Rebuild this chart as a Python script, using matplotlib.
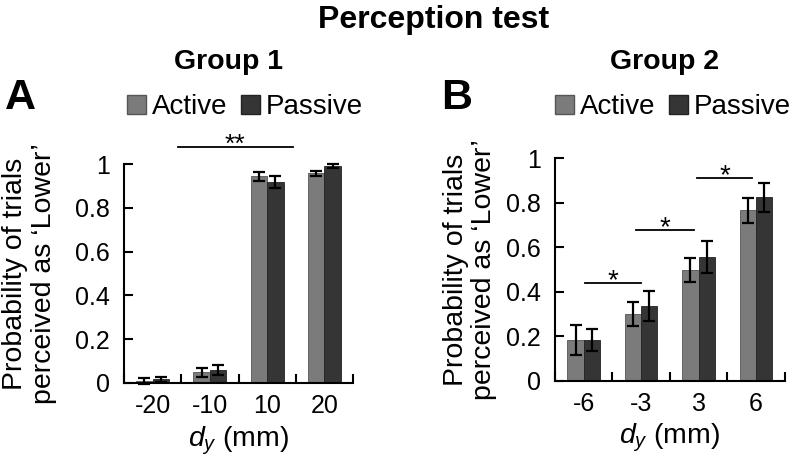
import matplotlib
matplotlib.use("Agg")
import matplotlib.pyplot as plt
import numpy as np
from matplotlib.patches import Patch

plt.rcParams['font.family'] = ['Liberation Sans', 'DejaVu Sans']
plt.rcParams['mathtext.fontset'] = 'custom'
plt.rcParams['mathtext.it'] = 'Liberation Sans:italic'
plt.rcParams['mathtext.rm'] = 'Liberation Sans'

# Data
cats_g1 = ['-20', '-10', '10', '20']
active_g1 = [0.010, 0.048, 0.943, 0.958]
active_err_g1 = [0.015, 0.022, 0.020, 0.011]
passive_g1 = [0.016, 0.058, 0.918, 0.990]
passive_err_g1 = [0.010, 0.022, 0.026, 0.010]

cats_g2 = ['-6', '-3', '3', '6']
active_g2 = [0.183, 0.300, 0.499, 0.766]
active_err_g2 = [0.067, 0.052, 0.053, 0.055]
passive_g2 = [0.183, 0.336, 0.556, 0.825]
passive_err_g2 = [0.049, 0.069, 0.073, 0.064]

# significance: (x_start, x_end, y, label)
sig_g1 = [(0.44, 2.45, 1.078, '**')]
sig_g2 = [(0.02, 0.99, 0.44, '*'), (0.91, 1.93, 0.678, '*'), (1.975, 2.94, 0.91, '*')]

yticks = [0, 0.2, 0.4, 0.6, 0.8, 1]
ytick_labels = ['0', '0.2', '0.4', '0.6', '0.8', '1']

c_active = '#7b7b7b'
c_passive = '#353535'

fig = plt.figure(figsize=(7.99, 4.62), dpi=100)
axA = fig.add_axes([0.155, 0.171, 0.287, 0.474])
axB = fig.add_axes([0.6946, 0.176, 0.2874, 0.481])


def draw(ax, cats, a, ae, p, pe, sigs, star_fs):
    x = np.arange(len(cats))
    w = 0.285
    ax.bar(x - w / 2, a, w, color=c_active, edgecolor='#555555', linewidth=0.6, zorder=2)
    ax.bar(x + w / 2, p, w, color=c_passive, edgecolor='#222222', linewidth=0.6, zorder=2)
    ax.errorbar(x - w / 2, a, yerr=ae, fmt='none', ecolor='black', elinewidth=1.6,
                capsize=4, capthick=1.6, zorder=3, clip_on=False)
    ax.errorbar(x + w / 2, p, yerr=pe, fmt='none', ecolor='black', elinewidth=1.6,
                capsize=4, capthick=1.6, zorder=3, clip_on=False)
    ax.set_xlim(-0.5, len(cats) - 0.5)
    ax.set_ylim(0, 1)
    ax.set_xticks(x)
    ax.set_xticklabels(cats, fontsize=18)
    ax.set_xticks(np.arange(len(cats) + 1) - 0.5, minor=True)
    ax.tick_params(axis='x', which='major', length=0, pad=8)
    ax.tick_params(axis='x', which='minor', direction='in', length=6.5, width=1.5)
    ax.set_yticks(yticks)
    ax.set_yticklabels(ytick_labels, fontsize=18)
    ax.tick_params(axis='y', direction='in', length=6.5, width=1.5, pad=10)
    for s in ['top', 'right']:
        ax.spines[s].set_visible(False)
    for s in ['left', 'bottom']:
        ax.spines[s].set_linewidth(1.5)
    for x0, x1, y, lab in sigs:
        ax.plot([x0, x1], [y, y], color='black', lw=1.3, clip_on=False)
        ax.annotate(lab, xy=((x0 + x1) / 2, y), xytext=(0, -3.6), textcoords='offset points',
                    ha='center', va='baseline', fontsize=star_fs, annotation_clip=False)
    ax.set_xlabel(r'$d_y$ (mm)', fontsize=20.5, labelpad=4.5)
    ax.set_ylabel("Probability of trials\nperceived as \u2018Lower\u2019", fontsize=20.5,
                  linespacing=1.12)


draw(axA, cats_g1, active_g1, active_err_g1, passive_g1, passive_err_g1, sig_g1, 19)
draw(axB, cats_g2, active_g2, active_err_g2, passive_g2, passive_err_g2, sig_g2, 20)
axA.yaxis.set_label_coords(-0.293, 0.5)
axB.yaxis.set_label_coords(-0.252, 0.5)

handles = [Patch(facecolor=c_active, edgecolor='#555555'),
           Patch(facecolor=c_passive, edgecolor='#222222')]
for ax, xc, yc in [(axA, 0.528, 1.26), (axB, 0.513, 1.23)]:
    ax.legend(handles, ['Active', 'Passive'], loc='center', bbox_to_anchor=(xc, yc),
              ncol=2, frameon=False, fontsize=20, handlelength=0.7, handleheight=0.7,
              handletextpad=0.2, columnspacing=0.5, borderpad=0, borderaxespad=0)

fig.text(434 / 799, 1 - 20 / 462, 'Perception test', ha='center', va='center',
         fontsize=23, fontweight='bold')
fig.text(229 / 799, 1 - 62 / 462, 'Group 1', ha='center', va='center',
         fontsize=20.5, fontweight='bold')
fig.text(665 / 799, 1 - 62 / 462, 'Group 2', ha='center', va='center',
         fontsize=20.5, fontweight='bold')
fig.text(20 / 799, 1 - 98 / 462, 'A', ha='center', va='center', fontsize=31, fontweight='bold')
fig.text(457 / 799, 1 - 98 / 462, 'B', ha='center', va='center', fontsize=31, fontweight='bold')

fig.savefig('out.png', dpi=100)
